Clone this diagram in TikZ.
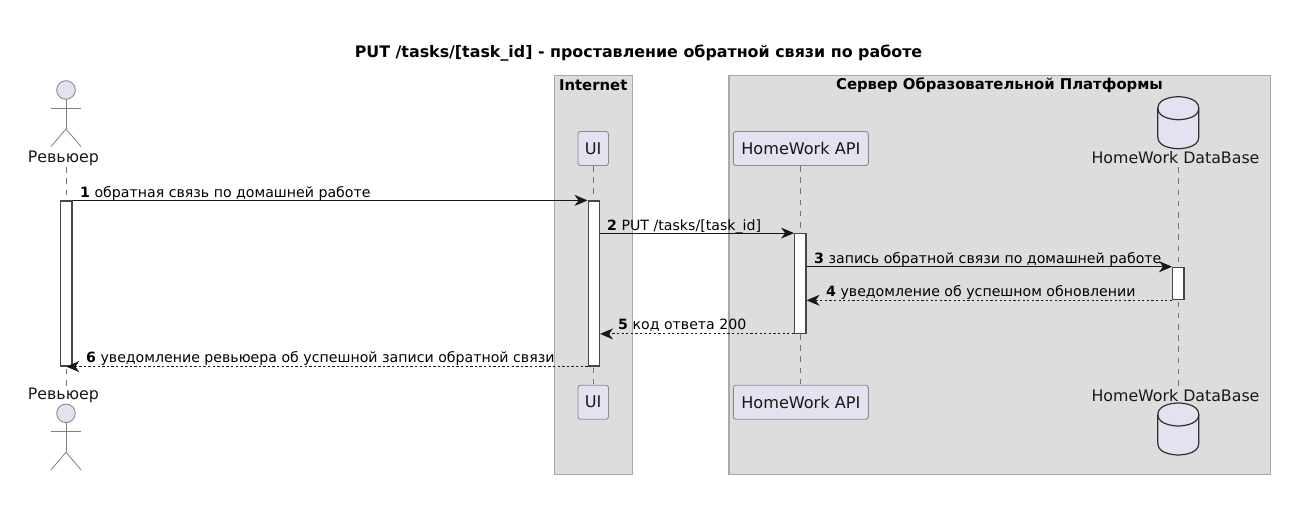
\documentclass[tikz,border=0pt]{standalone}
\usepackage{fontspec}
\setmainfont{DejaVu Sans}
\usetikzlibrary{arrows.meta}
\definecolor{partfill}{HTML}{E2E2F0}
\definecolor{boxfill}{HTML}{DDDDDD}
\definecolor{boxline}{HTML}{A8A8A8}
\definecolor{ink}{HTML}{181818}
\tikzset{
  grp/.style={draw=boxline,fill=boxfill,line width=1.2pt},
  grptitle/.style={font=\bfseries\fontsize{14.85}{17}\selectfont,inner sep=0pt,text=black},
  part/.style={draw=ink!50,fill=partfill,rounded corners=2.5pt,line width=.9pt,inner sep=0pt,minimum height=34pt,font=\fontsize{16.1}{18}\selectfont,text=ink},
  actlabel/.style={inner sep=0pt,minimum height=18pt,font=\fontsize{15.8}{18}\selectfont,text=ink},
  life/.style={draw=ink!60,line width=.8pt,dash pattern=on 5.6pt off 5.6pt},
  activ/.style={draw=ink!80,fill=white,line width=1.2pt,minimum width=11.3pt,inner sep=0pt},
  figure/.style={draw=ink!55,line width=.8pt},
  head/.style={draw=ink!50,fill=partfill,line width=.9pt,circle,minimum size=18.6pt,inner sep=0pt},
  msg/.style={draw=ink,line width=1.1pt,-{Stealth[length=13pt,width=11pt,inset=4pt]}},
  ret/.style={draw=ink,line width=1.1pt,dash pattern=on 2.3pt off 2.3pt,-{Stealth[length=13pt,width=11pt,inset=4pt]}},
  msglabel/.style={anchor=base west,inner sep=0pt,font=\fontsize{14.15}{16}\selectfont,text=black},
  dbstroke/.style={draw=ink!90,line width=1.2pt,fill=partfill}
}
\newcommand{\dbshape}[2]{% centre x, top y
  \draw[dbstroke] (#1-20.5,#2+11.5) .. controls (#1-20.5,#2) and (#1,#2) .. (#1,#2)
     .. controls (#1,#2) and (#1+20.5,#2) .. (#1+20.5,#2+11.5)
     -- (#1+20.5,#2+40.5) .. controls (#1+20.5,#2+52) and (#1,#2+52) .. (#1,#2+52)
     .. controls (#1,#2+52) and (#1-20.5,#2+52) .. (#1-20.5,#2+40.5) -- cycle;
  \draw[dbstroke,fill=none] (#1-20.5,#2+11.5) .. controls (#1-20.5,#2+23) and (#1,#2+23) .. (#1,#2+23)
     .. controls (#1,#2+23) and (#1+20.5,#2+23) .. (#1+20.5,#2+11.5);
}
\newcommand{\stickman}[3]{% name, centre x, head centre y
  \draw[figure] (#2,#3+9.3) -- (#2,#3+39);
  \draw[figure] (#2-15,#3+18) -- (#2+15,#3+18);
  \draw[figure] (#2-15,#3+56.5) -- (#2,#3+39) -- (#2+15,#3+56.5);
  \node[head] (#1) at (#2,#3) {};
}
\begin{document}
\begin{tikzpicture}[x=1pt,y=-1pt]
\useasboundingbox (0,0) rectangle (1292,514);
% title
\node[inner sep=0pt,font=\bfseries\fontsize{15.87}{18}\selectfont,text=black] (title) at (638.5,53) {PUT /tasks/[task\_id] - проставление обратной связи по работе};
% groups
\path[grp] (554.7,75.3) rectangle (632.7,474.3);
\path[grp] (729,75.3) rectangle (1270.7,474.3);
\node[grptitle] (gInternet) at (593.2,85) {Internet};
\node[grptitle] (gServer) at (999.5,85) {Сервер Образовательной Платформы};
% participants
\node[actlabel] (rTop) at (63.4,158) {Ревьюер};
\node[actlabel] (rBot) at (63.4,395.5) {Ревьюер};
\stickman{rHeadTop}{66}{90}
\stickman{rHeadBot}{66}{413.3}
\coordinate (xR) at (66,0);
\node[part,minimum width=30.5pt] (uiTop) at (593.2,148.5) {UI};
\node[part,minimum width=30.5pt] (uiBot) at (593.2,402.2) {UI};
\node[part,minimum width=135pt] (apiTop) at (800.8,148.5) {HomeWork API};
\node[part,minimum width=135pt] (apiBot) at (800.8,402.2) {HomeWork API};
\node[actlabel] (dbTop) at (1175.5,158) {HomeWork DataBase};
\node[actlabel] (dbBot) at (1175.5,395.5) {HomeWork DataBase};
\dbshape{1178.3}{96.7}
\dbshape{1178.3}{403}
\coordinate (xDB) at (1178.3,0);
% lifelines
\draw[life] (xR |- rTop.south) -- (xR |- rBot.north);
\draw[life] (uiTop.south) -- (uiBot.north);
\draw[life] (apiTop.south) -- (apiBot.north);
\draw[life] (xDB |- dbTop.south) -- (xDB |- dbBot.north);
% activations
\node[activ,minimum height=165pt] (rA) at (66.3,283.5) {};
\node[activ,minimum height=165pt] (uiA) at (593.8,283.5) {};
\node[activ,minimum height=99.6pt] (apiA) at (800.3,283.5) {};
\node[activ,minimum height=32.4pt] (dbA) at (1178.3,283.5) {};
% messages
\draw[msg] (rA.north east) -- (uiA.north west);
\draw[msg] (uiA.east |- apiA.north) -- (apiA.north west);
\draw[msg] (apiA.east |- dbA.north) -- (dbA.north west);
\draw[ret] (dbA.south west) -- (apiA.east |- dbA.south);
\draw[ret] (apiA.south west) -- (uiA.east |- apiA.south);
\draw[ret] (uiA.south west) -- (rA.south);
% labels
\node[msglabel] (l1) at (80,197) {\textbf{1} обратная связь по домашней работе};
\node[msglabel] (l2) at (607,230) {\textbf{2} PUT /tasks/[task\_id]};
\node[msglabel] (l3) at (814,263) {\textbf{3} запись обратной связи по домашней работе};
\node[msglabel] (l4) at (826,296) {\textbf{4} уведомление об успешном обновлении};
\node[msglabel] (l5) at (618,329) {\textbf{5} код ответа 200};
\node[msglabel] (l6) at (86,362) {\textbf{6} уведомление ревьюера об успешной записи обратной связи};
\end{tikzpicture}
\end{document}
